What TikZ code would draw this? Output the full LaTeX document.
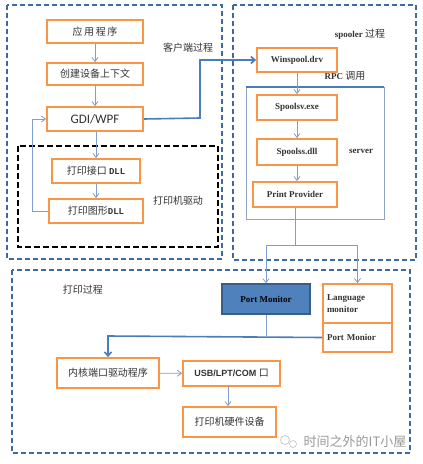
\documentclass[tikz,border=0pt]{standalone}
\usepackage{fontspec}
\setmainfont{Liberation Serif}
\setsansfont{Liberation Sans}
\setmonofont{Liberation Mono}
\newfontfamily\cjk{Noto Sans CJK SC}
\newfontfamily\carl{Carlito}
\usetikzlibrary{arrows.meta,calc}
\definecolor{orng}{HTML}{F79646}
\definecolor{dblue}{HTML}{3F6A9E}
\definecolor{lblue}{HTML}{7F9DD0}
\definecolor{mblue}{HTML}{4A7EBB}
\definecolor{pmfill}{HTML}{4F81BD}
\definecolor{pmdraw}{HTML}{385D8A}
\definecolor{txt}{HTML}{333333}
\definecolor{srv}{HTML}{8FA3C4}
\tikzset{
  obox/.style={draw=orng, line width=1.8pt, fill=white, inner sep=0pt, text=txt},
  zone/.style={draw=dblue, line width=1.8pt, dash pattern=on 5pt off 3pt},
  blkzone/.style={draw=black, line width=2.4pt, dash pattern=on 6pt off 3pt},
  arr/.style={draw=lblue, line width=0.8pt, -{Straight Barb[length=4pt,width=6pt]}},
  thin/.style={draw=lblue, line width=0.8pt},
  thick/.style={draw=mblue, line width=1.6pt},
  lbl/.style={text=txt, inner sep=0pt},
  zh/.style={font=\cjk\fontsize{10}{12}\selectfont},
  en/.style={font=\bfseries\fontsize{9}{11}\selectfont},
}
\begin{document}
\begin{tikzpicture}[x=1pt,y=-1pt]
\useasboundingbox (0,0) rectangle (423,464);
\fill[white] (0,0) rectangle (423,464);
% zones
\draw[zone] (7,5) rectangle (222,259);
\draw[zone] (233,5) rectangle (416,260);
\draw[zone] (12,270) rectangle (410,453);
\draw[blkzone] (18,146) rectangle (218,247);
% server box
\draw[draw=srv, line width=0.7pt] (246,87) rectangle (384,219);
\draw[draw=mblue, line width=1.2pt] (246,87) -- (384,87);
% client nodes
\node[obox, zh, minimum width=96pt, minimum height=23pt] (app) at (95,31.5) {应\,用\,程\,序};
\node[obox, zh, minimum width=96pt, minimum height=22pt] (ctx) at (95,74) {创建设备上下文};
\node[obox, font=\carl\fontsize{13}{14}\selectfont, minimum width=96pt, minimum height=24pt] (gdi) at (95,119) {GDI/WPF};
\node[obox, zh, minimum width=88pt, minimum height=24pt] (dllif) at (96,171) {打印接口 {\ttfamily\bfseries\fontsize{9}{11}\selectfont DLL}};
\node[obox, zh, minimum width=94pt, minimum height=24pt] (dllgr) at (96,211) {打印图形{\ttfamily\bfseries\fontsize{9}{11}\selectfont DLL}};
% spooler nodes
\node[obox, en, minimum width=80pt, minimum height=24pt] (winspool) at (297,60) {Winspool.drv};
\node[obox, en, minimum width=80pt, minimum height=25pt] (spoolsv) at (297,107.5) {Spoolsv.exe};
\node[obox, en, minimum width=80pt, minimum height=26pt] (spoolss) at (297,152) {Spoolss.dll};
\node[obox, en, minimum width=84pt, minimum height=25pt] (provider) at (295,194.5) {Print Provider};
% print process nodes
\node[draw=pmdraw, line width=1.2pt, fill=pmfill, en, text=black, inner sep=0pt, minimum width=88pt, minimum height=30pt] (pm) at (266,299) {Port Monitor};
\node[obox, en, minimum width=69pt, minimum height=39pt, align=left, text width=61pt] (lm) at (357.5,303.5) {Language\\[1pt]monitor};
\node[obox, en, minimum width=69pt, minimum height=29pt, align=left, text width=61pt] (pmr) at (357.5,337.5) {Port Monior};
\node[obox, zh, minimum width=102pt, minimum height=30pt] (kernel) at (108,373) {内核端口驱动程序};
\node[obox, font=\sffamily\bfseries\fontsize{9}{11}\selectfont, minimum width=97pt, minimum height=25pt] (usb) at (231.5,373.5) {USB/LPT/COM {\cjk\mdseries\fontsize{10}{12}\selectfont 口}};
\node[obox, zh, minimum width=93pt, minimum height=30pt] (hw) at (229.5,422) {打印机硬件设备};
% labels
\node[lbl, zh] (l1) at (188,48) {客户端过程};
\node[lbl, zh] (l2) at (178,201) {打印机驱动};
\node[lbl, font=\bfseries\fontsize{9}{11}\selectfont] (l3) at (360,34) {spooler {\cjk\mdseries\fontsize{10}{12}\selectfont 过程}};
\node[lbl, font=\bfseries\fontsize{9}{11}\selectfont] (l4) at (345,76) {RPC {\cjk\mdseries\fontsize{10}{12}\selectfont 调用}};
\node[lbl, font=\bfseries\fontsize{9}{11}\selectfont] (l5) at (361,151) {server};
\node[lbl, zh] (l6) at (83,290) {打印过程};
\node[inner sep=0pt, text=black!40, font=\cjk\fontsize{13}{15}\selectfont] (wm) at (355,442) {时间之外的IT小屋};
\draw[black!25, line width=0.6pt] (285,440) circle (4.5pt) (293,444) circle (3.5pt);
% connectors client
\draw[arr] (app) -- (ctx);
\draw[arr] (ctx) -- (gdi);
\draw[arr] (gdi.south -| dllif.north) -- (dllif.north);
\draw[arr] (dllif) -- (dllgr);
\draw[arr] (dllgr.west) -- (32,211) |- (gdi.west);
\draw[thick, -{Straight Barb[length=4pt,width=7pt]}] (gdi.east) -- (200,118) |- (winspool.west);
% spooler
\draw[arr] (winspool) -- (spoolsv);
\draw[arr] (spoolsv) -- (spoolss);
\draw[arr] ($(spoolss.south -| provider.north)+(2,0)$) -- ($(provider.north)+(2,0)$);
\coordinate (split) at (295,245);
\draw[thin] (provider.south) -- (split);
\draw[thin] (pm.north |- split) -- (lm.north |- split);
\draw[arr] (pm.north |- split) -- (pm.north);
\draw[arr] (lm.north |- split) -- (lm.north);
% print process
\coordinate (join) at (266,336);
\draw[thin] (pm.south) -- (join);
\draw[thick, -{Straight Barb[length=4pt,width=7pt]}] (pmr.west) -- (kernel.north |- join) -- (kernel.north);
\draw[arr] (kernel) -- (usb);
\draw[arr] ($(usb.south -| hw.north)+(-1.5,0)$) -- ($(hw.north)+(-1.5,0)$);
\end{tikzpicture}
\end{document}
